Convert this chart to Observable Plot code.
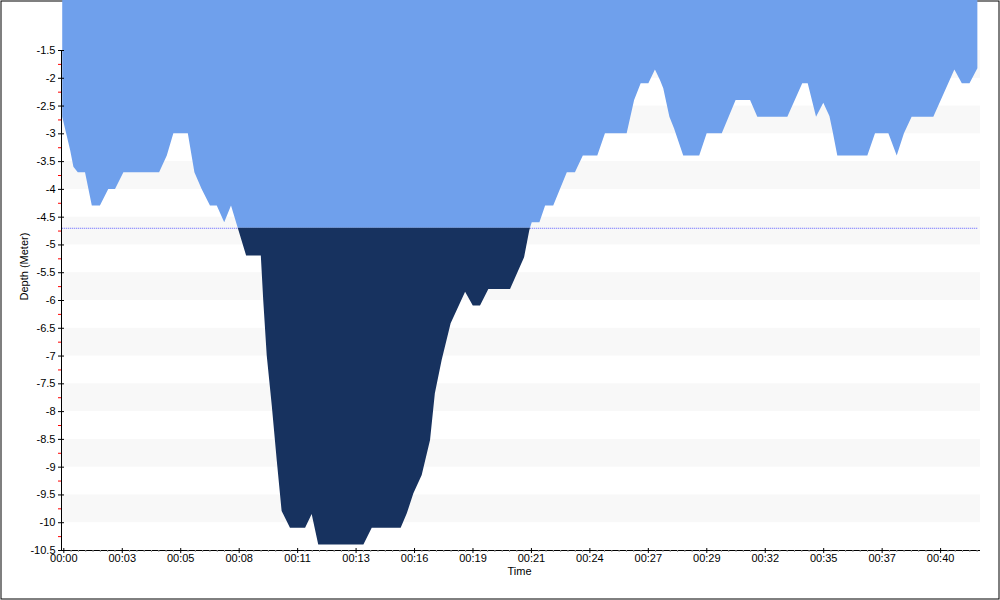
<!DOCTYPE html>
<html><head><meta charset="utf-8">
<script src="https://cdn.jsdelivr.net/npm/d3@7"></script>
<script src="https://cdn.jsdelivr.net/npm/@observablehq/plot@0.6"></script>
<style>
html,body{margin:0;padding:0;background:#fff;}
</style>
</head><body><div id="chart"></div>
<script>
// Dive profile: time in minutes, depth in metres (negative = below surface)
const times = [-0.05, 0.31, 0.46, 0.66, 0.99, 1.30, 1.67, 2.05, 2.36, 2.74, 4.37, 4.72, 5.02, 5.68, 5.98, 6.31, 6.69, 7.00, 7.34, 7.65, 8.34, 9.01, 9.12, 9.28, 9.51, 9.74, 9.96, 10.03, 10.34, 11.03, 11.33, 11.63, 13.69, 14.07, 15.39, 15.67, 15.97, 16.35, 16.73, 16.95, 17.26, 17.67, 18.33, 18.68, 19.01, 19.39, 20.38, 21.02, 21.26, 21.37, 21.72, 21.98, 22.35, 22.97, 23.34, 23.70, 24.36, 24.71, 25.70, 26.04, 26.34, 26.69, 26.99, 27.22, 27.37, 27.65, 27.86, 28.28, 29.01, 29.35, 30.04, 30.67, 31.33, 31.66, 33.03, 33.71, 33.96, 34.34, 34.67, 34.95, 35.10, 35.31, 36.68, 37.03, 37.64, 38.02, 38.35, 38.70, 39.69, 40.65, 40.99, 41.34, 41.70];
const depths = [-2.7, -3.3, -3.6, -3.7, -3.7, -4.3, -4.3, -4.0, -4.0, -3.7, -3.7, -3.4, -3.0, -3.0, -3.7, -4.0, -4.3, -4.3, -4.6, -4.3, -5.2, -5.2, -6.0, -7.0, -7.9, -8.9, -9.8, -9.85, -10.1, -10.1, -9.85, -10.4, -10.4, -10.1, -10.1, -9.84, -9.48, -9.15, -8.52, -7.68, -7.08, -6.42, -5.85, -6.1, -6.1, -5.8, -5.8, -5.23, -4.74, -4.6, -4.6, -4.3, -4.3, -3.7, -3.7, -3.4, -3.4, -3.0, -3.0, -2.4, -2.1, -2.1, -1.85, -2.04, -2.19, -2.7, -2.91, -3.4, -3.4, -3.0, -3.0, -2.4, -2.4, -2.7, -2.7, -2.1, -2.1, -2.7, -2.45, -2.69, -2.97, -3.4, -3.4, -3.0, -3.0, -3.4, -3.0, -2.7, -2.7, -1.85, -2.1, -2.1, -1.83];
const threshold = -4.7;

const yTicks = [-1.5, -2, -2.5, -3, -3.5, -4, -4.5, -5, -5.5, -6, -6.5, -7, -7.5, -8, -8.5, -9, -9.5, -10, -10.5];
const yMinorTicks = [-1.75, -2.25, -2.75, -3.25, -3.75, -4.25, -4.75, -5.25, -5.75, -6.25, -6.75, -7.25, -7.75, -8.25, -8.75, -9.25, -9.75, -10.25];
const bandTops = [-1.5, -2.5, -3.5, -4.5, -5.5, -6.5, -7.5, -8.5, -9.5];
const xTickLabels = ["00:00", "00:03", "00:05", "00:08", "00:11", "00:13", "00:16", "00:19", "00:21", "00:24", "00:27", "00:29", "00:32", "00:35", "00:37", "00:40"];

const xDomain = [-0.06, 41.82];
const yDomain = [-10.5, -0.6];
const tickStep = 160 / 60; // major tick every 160 s
const xTicks = xTickLabels.map((_, i) => i * tickStep);
const xMinor = d3.range(1, 126).filter(i => i % 8 !== 0).map(i => i / 3);

// Build series with threshold crossings inserted
const raw = times.map((t, i) => ({t, depth: depths[i]}));
const series = [];
raw.forEach((p, i) => {
  if (i > 0) {
    const q = raw[i - 1];
    if ((q.depth - threshold) * (p.depth - threshold) < 0) {
      const f = (threshold - q.depth) / (p.depth - q.depth);
      series.push({t: q.t + f * (p.t - q.t), depth: threshold});
    }
  }
  series.push(p);
});

const chart = Plot.plot({
  width: 1000, height: 600,
  marginLeft: 62, marginRight: 20, marginTop: 0, marginBottom: 50,
  style: {fontFamily: "Tahoma, 'Liberation Sans', Arial, sans-serif", fontSize: "11px", background: "#fff", color: "#000", overflow: "visible"},
  x: {domain: xDomain, axis: null},
  y: {domain: yDomain, axis: null},
  marks: [
    Plot.frame({stroke: "#000", insetTop: 0.5, insetLeft: -61.5, insetRight: -18.5, insetBottom: -48.5}),
    Plot.rect(bandTops, {y1: d => d, y2: d => d - 0.5, fill: "#f8f8f8"}),
    Plot.ruleY([threshold], {x1: times[0], x2: times[times.length - 1], stroke: "#5c5cff", strokeDasharray: "1,1"}),
    Plot.areaY(series, {x: "t", y1: yDomain[1], y2: d => Math.max(d.depth, threshold), fill: "#6fa0ec", curve: "linear"}),
    Plot.areaY(series, {x: "t", y1: threshold, y2: d => Math.min(d.depth, threshold), fill: "#17325f", curve: "linear"}),
    Plot.ruleY([yDomain[0]], {stroke: "#000", dx: 0}),
    Plot.ruleX([xDomain[0]], {y1: yTicks[0], y2: yTicks[yTicks.length - 1], stroke: "#000", dx: -1}),
    Plot.axisY({ticks: yMinorTicks, tickSize: 3, dx: -1, stroke: "#ff0000", tickFormat: () => "", label: null}),
    Plot.axisY({ticks: yTicks, tickSize: 6, dx: 2, tickPadding: 3, stroke: "#000", tickFormat: d => String(d), label: null}),
    Plot.axisX({ticks: xMinor, tickSize: 2, stroke: "#999", tickFormat: () => "", label: null}),
    Plot.axisX({ticks: xTicks, tickSize: 5, dy: -2, tickPadding: 1, stroke: "#000", tickFormat: d => xTickLabels[Math.round(d / tickStep)], label: null}),
    Plot.text(["Depth (Meter)"], {frameAnchor: "left", rotate: -90, dx: -38, dy: 25, fill: "#000"}),
    Plot.text(["Time"], {frameAnchor: "bottom", dx: -2, dy: 24.5, fill: "#000"})
  ]
});
document.getElementById("chart").appendChild(chart);
</script>
</body></html>
